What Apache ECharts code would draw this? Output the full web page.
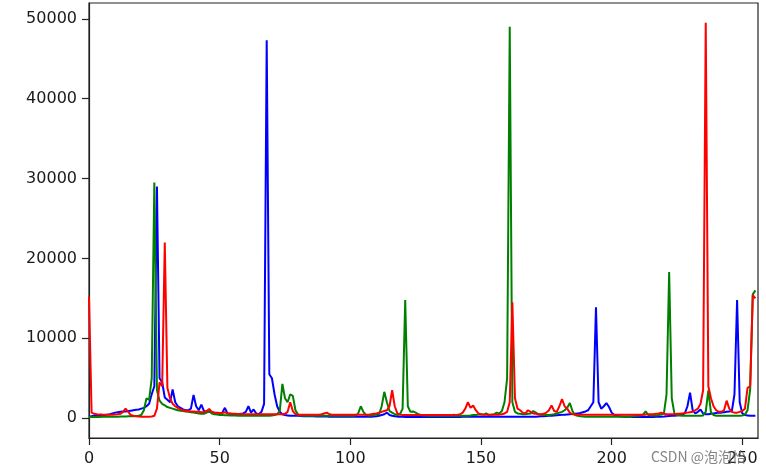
<!DOCTYPE html>
<html>
<head>
<meta charset="utf-8">
<script src="https://cdn.jsdelivr.net/npm/echarts@6/dist/echarts.min.js"></script>
<style>html,body{margin:0;padding:0;background:#fff}#c{width:766px;height:474px}</style>
</head>
<body>
<div id="c"></div>
<script>
// Histogram counts per intensity level (0..255) for each channel
const blueCounts = [
  200, 250, 300, 300, 350, 400, 400, 450, 500, 600, 700, 750, 800, 850, 850, 900,
  950, 1000, 1050, 1100, 1200, 1300, 1500, 1800, 3000, 4000, 29000, 5000, 4500, 2600, 2300, 2000,
  3600, 2000, 1500, 1300, 1100, 1000, 1000, 1200, 2900, 1500, 1000, 1700, 900, 800, 800, 750,
  700, 700, 650, 700, 1300, 600, 550, 500, 500, 500, 550, 600, 800, 1500, 700, 1100,
  600, 500, 800, 1800, 47300, 5500, 5000, 3000, 1500, 800, 500, 400, 350, 300, 300, 300,
  300, 280, 260, 250, 250, 250, 240, 230, 220, 220, 220, 210, 200, 200, 200, 200,
  200, 190, 180, 180, 180, 180, 180, 180, 180, 180, 180, 190, 200, 220, 250, 300,
  400, 500, 700, 400, 300, 250, 200, 180, 170, 160, 160, 160, 160, 160, 160, 160,
  160, 160, 160, 160, 160, 160, 160, 160, 160, 160, 160, 160, 160, 160, 160, 170,
  180, 180, 180, 180, 180, 180, 180, 180, 190, 200, 200, 200, 200, 200, 200, 200,
  200, 200, 200, 200, 200, 200, 200, 200, 200, 200, 200, 200, 220, 240, 260, 280,
  300, 320, 350, 380, 400, 420, 450, 480, 500, 520, 550, 600, 650, 750, 850, 1000,
  1500, 2000, 13900, 2000, 1200, 1500, 1900, 1400, 700, 400, 300, 250, 220, 200, 180, 170,
  160, 150, 150, 150, 150, 150, 150, 150, 160, 170, 180, 200, 220, 250, 280, 300,
  320, 350, 400, 450, 600, 1500, 3200, 1000, 600, 800, 1100, 600, 500, 500, 550, 600,
  650, 700, 700, 750, 800, 850, 900, 3000, 14800, 2000, 600, 400, 350, 300, 300, 300
];
const greenCounts = [
  150, 150, 150, 160, 160, 170, 170, 180, 180, 190, 200, 200, 210, 220, 230, 240,
  250, 260, 280, 300, 400, 1000, 2500, 2300, 5000, 29500, 3500, 2200, 1800, 1600, 1400, 1300,
  1200, 1100, 1000, 950, 900, 850, 800, 750, 700, 650, 600, 550, 550, 700, 900, 600,
  500, 450, 400, 400, 380, 360, 350, 340, 330, 320, 310, 300, 300, 300, 300, 300,
  300, 300, 300, 300, 300, 300, 350, 400, 500, 900, 4300, 2500, 2000, 3000, 2800, 1000,
  450, 350, 300, 300, 300, 300, 300, 300, 300, 300, 300, 300, 300, 300, 300, 300,
  300, 300, 300, 300, 300, 300, 350, 600, 1500, 800, 400, 350, 350, 400, 450, 500,
  1500, 3300, 2000, 900, 700, 500, 400, 500, 1200, 14800, 1500, 800, 850, 700, 500, 400,
  350, 330, 320, 310, 300, 300, 300, 300, 300, 300, 300, 300, 300, 300, 300, 300,
  300, 320, 350, 400, 400, 450, 500, 450, 600, 400, 450, 500, 700, 600, 900, 2000,
  5000, 49000, 2000, 800, 600, 550, 500, 500, 550, 600, 900, 700, 500, 450, 400, 400,
  400, 450, 500, 600, 700, 800, 1000, 1300, 1900, 900, 400, 300, 250, 220, 200, 200,
  200, 200, 200, 200, 200, 200, 200, 200, 200, 200, 200, 200, 200, 200, 200, 220,
  250, 280, 300, 350, 450, 850, 400, 350, 350, 350, 400, 450, 600, 3000, 18300, 2500,
  600, 400, 350, 300, 300, 300, 300, 300, 300, 300, 300, 350, 800, 3500, 700, 400,
  300, 300, 300, 300, 300, 300, 300, 300, 300, 300, 350, 450, 1000, 3600, 15500, 16000
];
const redCounts = [
  15200, 700, 550, 500, 480, 460, 450, 450, 450, 450, 480, 500, 550, 800, 1200, 800,
  400, 300, 250, 220, 200, 200, 200, 200, 220, 300, 1200, 4500, 4000, 22000, 3800, 2500,
  1800, 1500, 1300, 1100, 1000, 950, 900, 850, 850, 800, 800, 750, 750, 900, 1150, 800,
  700, 650, 650, 650, 750, 600, 600, 550, 550, 520, 520, 500, 500, 500, 500, 500,
  500, 500, 500, 500, 500, 500, 500, 500, 500, 500, 500, 550, 800, 2000, 900, 500,
  450, 450, 450, 450, 450, 450, 450, 450, 450, 500, 600, 700, 500, 450, 450, 450,
  450, 450, 450, 450, 450, 450, 450, 450, 450, 450, 450, 450, 500, 550, 600, 700,
  800, 900, 1000, 1500, 3500, 1500, 600, 450, 400, 400, 400, 400, 400, 400, 400, 400,
  400, 400, 400, 400, 400, 400, 400, 400, 400, 400, 400, 400, 420, 450, 500, 700,
  1200, 2000, 1300, 1600, 1000, 600, 500, 450, 450, 450, 450, 450, 450, 450, 500, 600,
  800, 2000, 14500, 2500, 1200, 1000, 700, 600, 1000, 800, 600, 550, 500, 500, 550, 700,
  1000, 1600, 900, 800, 1500, 2400, 1500, 1200, 700, 500, 450, 450, 450, 450, 450, 450,
  450, 450, 450, 450, 450, 450, 450, 450, 450, 450, 450, 450, 450, 450, 450, 450,
  450, 450, 450, 450, 450, 450, 500, 500, 500, 550, 600, 700, 550, 500, 500, 500,
  500, 550, 550, 600, 650, 700, 750, 800, 1000, 1200, 1800, 3500, 49500, 4000, 2500, 1500,
  1000, 800, 800, 1000, 2200, 1200, 800, 700, 700, 800, 900, 1200, 3800, 4000, 15400, 15000
];
const xTicks = [0, 50, 100, 150, 200, 250];
const yTicks = [0, 10000, 20000, 30000, 40000, 50000];

const toPairs = arr => arr.map((v, i) => [i, v]);
const textColor = '#1a1a1a';
const font = 'DejaVu Sans';

const chart = echarts.init(document.getElementById('c'), null, {renderer: 'canvas'});
chart.setOption({
  animation: false,
  backgroundColor: '#fff',
  grid: {left: 89, right: 8, top: 3, bottom: 36, show: true, borderColor: '#222', borderWidth: 1.2, containLabel: false},
  xAxis: {
    type: 'value', min: 0, max: 256,
    splitLine: {show: false},
    axisLine: {show: true, onZero: false, lineStyle: {color: '#222', width: 1.2}},
    axisTick: {show: true, length: 7, lineStyle: {color: '#222', width: 1.2}, customValues: xTicks},
    axisLabel: {color: textColor, fontFamily: font, fontSize: 16, margin: 13, customValues: xTicks,
      formatter: v => String(v)}
  },
  yAxis: {
    type: 'value', min: -2475, max: 51975,
    splitLine: {show: false},
    axisLine: {show: true, onZero: false, lineStyle: {color: '#222', width: 1.2}},
    axisTick: {show: true, length: 7, lineStyle: {color: '#222', width: 1.2}, customValues: yTicks},
    axisLabel: {color: textColor, fontFamily: font, fontSize: 16, margin: 12, customValues: yTicks,
      formatter: v => String(v)}
  },
  series: [
    {type: 'line', data: toPairs(blueCounts), showSymbol: false, lineStyle: {color: '#0000ff', width: 2}, itemStyle: {color: '#0000ff'}},
    {type: 'line', data: toPairs(greenCounts), showSymbol: false, lineStyle: {color: '#008000', width: 2}, itemStyle: {color: '#008000'}},
    {type: 'line', data: toPairs(redCounts), showSymbol: false, lineStyle: {color: '#ff0000', width: 2}, itemStyle: {color: '#ff0000'}}
  ],
  graphic: [{
    type: 'text', right: 20, top: 450, z: 100,
    style: {text: 'CSDN @泡泡怡', fill: 'rgba(110,110,110,0.85)', font: '14px "Noto Sans CJK SC", "DejaVu Sans"'}
  }]
});
</script>
</body>
</html>
